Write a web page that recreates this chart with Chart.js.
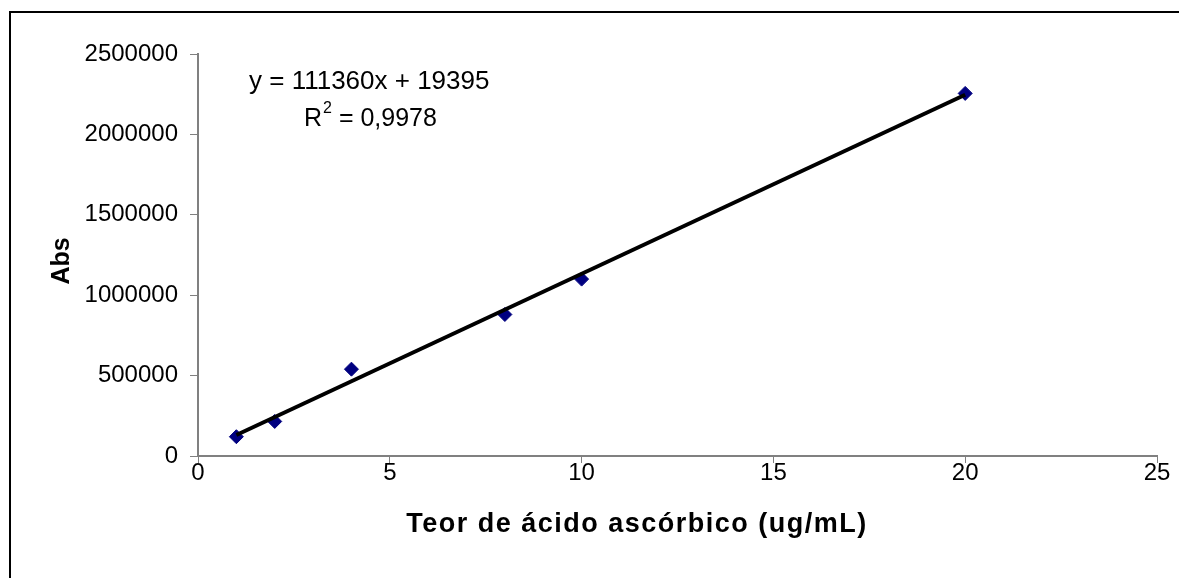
<!DOCTYPE html>
<html>
<head>
<meta charset="utf-8">
<script src="https://cdn.jsdelivr.net/npm/chart.js@4.4.1/dist/chart.umd.min.js"></script>
<style>
  html, body { margin: 0; padding: 0; background: #fff; }
  #wrap { position: relative; width: 1179px; height: 578px; overflow: hidden; }
  #frame { position: absolute; left: 9px; top: 11px; width: 1300px; height: 700px; border: 2px solid #000; box-sizing: border-box; }
  canvas { position: absolute; left: 0; top: 0; }
</style>
</head>
<body>
<div id="wrap">
  <div id="frame"></div>
  <canvas id="calChart" width="1179" height="578"></canvas>
</div>
<script>
// measured points (concentration vs absorbance)
const concentrations = [1, 2, 4, 8, 10, 20];
const absValues = [120000, 215000, 540000, 880000, 1100000, 2255000];
// linear trendline ends, y = 111360x + 19395
const trendX = [1, 20];
const trendY = [130755, 2246595];
const equationText = 'y = 111360x + 19395';
const r2Text = '0,9978';
const xTitle = 'Teor de ácido ascórbico (ug/mL)';
const yTitle = 'Abs';

const FONT = 'Arial, "Liberation Sans", sans-serif';

// equation label and axis titles, placed like the excel chart
const labelPlugin = {
  id: 'labels',
  afterDraw(chart) {
    const c = chart.ctx;
    c.save();
    c.fillStyle = '#000';
    c.textBaseline = 'alphabetic';
    c.textAlign = 'left';
    c.font = '26px ' + FONT;
    c.fillText(equationText, 249, 89);
    // R^2 line
    c.font = '25px ' + FONT;
    let x = 304;
    c.fillText('R', x, 126);
    x += c.measureText('R').width;
    c.font = '16px ' + FONT;
    c.fillText('2', x + 1, 113);
    x += c.measureText('2').width + 1;
    c.font = '25px ' + FONT;
    c.fillText(' = ' + r2Text, x, 126);

    // x title
    c.font = 'bold 27px ' + FONT;
    c.letterSpacing = '1.5px';
    c.textAlign = 'center';
    c.textBaseline = 'middle';
    c.fillText(xTitle, 637, 525);
    c.letterSpacing = '0px';
    // y title
    c.font = 'bold 25px ' + FONT;
    c.translate(62, 261);
    c.rotate(-Math.PI / 2);
    c.fillText(yTitle, 0, 0);
    c.restore();
  }
};

new Chart(document.getElementById('calChart'), {
  type: 'scatter',
  data: {
    datasets: [{
      label: 'Trend',
      type: 'line',
      data: trendX.map((x, i) => ({ x: x, y: trendY[i] })),
      borderColor: '#000',
      borderWidth: 4,
      pointRadius: 0,
      fill: false,
      order: 0
    }, {
      label: 'Abs',
      data: concentrations.map((x, i) => ({ x: x, y: absValues[i] })),
      pointStyle: 'rectRot',
      pointRadius: 7,
      backgroundColor: '#000080',
      borderColor: '#000080',
      borderWidth: 1,
      order: 1
    }]
  },
  options: {
    responsive: false,
    animation: false,
    layout: { padding: { left: 0, right: 22, top: 54, bottom: 0 } },
    plugins: { legend: { display: false }, tooltip: { enabled: false } },
    scales: {
      x: {
        type: 'linear',
        min: 0, max: 25,
        ticks: { stepSize: 5, color: '#000', font: { family: FONT, size: 24 }, padding: -4 },
        grid: { drawOnChartArea: false, drawTicks: true, tickLength: 7, color: '#808080' },
        border: { color: '#808080', width: 2 },
        afterFit(scale) { scale.height = 122; }
      },
      y: {
        min: 0, max: 2500000,
        ticks: { stepSize: 500000, color: '#000', font: { family: FONT, size: 24 }, padding: 12,
          callback: v => String(v) },
        grid: { drawOnChartArea: false, drawTicks: true, tickLength: 8, color: '#808080' },
        border: { color: '#808080', width: 2 },
        afterFit(scale) { scale.width = 198; }
      }
    }
  },
  plugins: [labelPlugin]
});
</script>
</body>
</html>
